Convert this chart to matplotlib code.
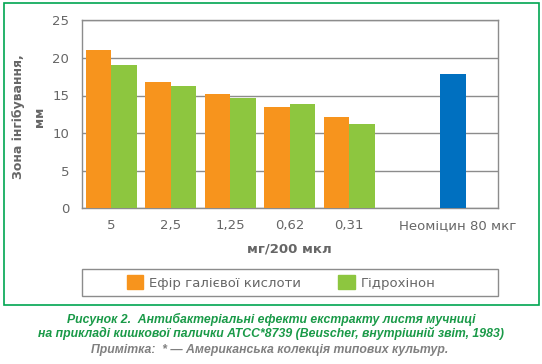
import numpy as np
import matplotlib
matplotlib.use("Agg")
import matplotlib.pyplot as plt
from matplotlib.patches import Rectangle, Patch

# ── Дані ──────────────────────────────────────────────────────────────────────
categories = ["5", "2,5", "1,25", "0,62", "0,31", "", "Неоміцин 80 мкг"]
gallic_ester = [21.1, 16.8, 15.2, 13.5, 12.2]
hydroquinone = [19.1, 16.3, 14.7, 13.9, 11.2]
neomycin = [17.8]

series_names = ["Ефір галієвої кислоти", "Гідрохінон"]
y_ticks = [0, 5, 10, 15, 20, 25]

ORANGE = "#F7941D"
GREEN = "#8DC63F"
BLUE = "#0070C0"
GRAY_TXT = "#666666"
GRAY_LINE = "#8C8C8C"
FRAME_GREEN = "#00A651"
CAPTION_GREEN = "#1A9A48"

W, H = 542, 364
fig = plt.figure(figsize=(W / 100, H / 100), dpi=100)

def fx(px):
    return px / W

def fy(py):
    return 1 - py / H

# зелена рамка
fig.patches.append(Rectangle((fx(4), fy(305)), fx(538.5) - fx(4), fy(2.5) - fy(305),
                             transform=fig.transFigure, fill=False,
                             edgecolor=FRAME_GREEN, linewidth=1.2))

ax = fig.add_axes([fx(81.7), fy(208.3), fx(497.7) - fx(81.7), fy(20.3) - fy(208.3)])

x = np.arange(len(categories))
bw = 0.43
n = len(gallic_ester)
ax.bar(x[:n] - bw / 2, gallic_ester, width=bw, color=ORANGE, zorder=3)
ax.bar(x[:n] + bw / 2, hydroquinone, width=bw, color=GREEN, zorder=3)
ax.bar(x[-1:] - 0.25, neomycin, width=bw, color=BLUE, zorder=3)

ax.set_xlim(-0.5, len(categories) - 0.5)
ax.set_ylim(0, 25)
ax.set_yticks(y_ticks)
ax.grid(axis="y", color=GRAY_LINE, linewidth=1, zorder=0)

tick_pos = x.astype(float)
tick_pos[-1] -= 0.165
ax.set_xticks(tick_pos)
ax.set_xticklabels(categories)
ax.tick_params(length=0, labelsize=9.5, colors=GRAY_TXT)
ax.tick_params(axis="y", pad=9)
ax.tick_params(axis="x", pad=8)
for s in ax.spines.values():
    s.set_color(GRAY_LINE)
    s.set_linewidth(1)

# підпис осі Y
fig.text(fx(29), fy(117), "Зона інгібування,\nмм", rotation=90, ha="center", va="center",
         fontsize=9, fontweight="bold", color=GRAY_TXT, linespacing=1.7)

fig.text(fx(289.7), fy(248.5), "мг/200 мкл", ha="center", va="center",
         fontsize=9.5, fontweight="bold", color=GRAY_TXT)

# легенда
fig.patches.append(Rectangle((fx(81.7), fy(296)), fx(497.7) - fx(81.7), fy(269.3) - fy(296),
                             transform=fig.transFigure, fill=False,
                             edgecolor=GRAY_LINE, linewidth=1))
handles = [Patch(color=ORANGE), Patch(color=GREEN)]
fig.legend(handles, series_names, loc="center left", bbox_to_anchor=(fx(127), fy(282.6)),
           ncol=2, frameon=False, fontsize=9.5, labelcolor=GRAY_TXT,
           handlelength=1.25, handleheight=1.25, handletextpad=0.45,
           columnspacing=2.8, borderpad=0, borderaxespad=0)

cap_font = ["Liberation Sans", "DejaVu Sans"]
fig.text(fx(271), fy(319), "Рисунок 2.  Антибактеріальні ефекти екстракту листя мучниці",
         ha="center", va="center", fontsize=8.8, fontweight="bold", style="italic",
         color=CAPTION_GREEN, family=cap_font)
fig.text(fx(271), fy(333.5), "на прикладі кишкової палички АТСС*8739 (Beuscher, внутрішній звіт, 1983)",
         ha="center", va="center", fontsize=8.8, fontweight="bold", style="italic",
         color=CAPTION_GREEN, family=cap_font)
fig.text(fx(270), fy(350), "Примітка:  * — Американська колекція типових культур.",
         ha="center", va="center", fontsize=8.8, fontweight="bold", style="italic",
         color="#808080", family=cap_font)

fig.savefig("out.png", dpi=100)
